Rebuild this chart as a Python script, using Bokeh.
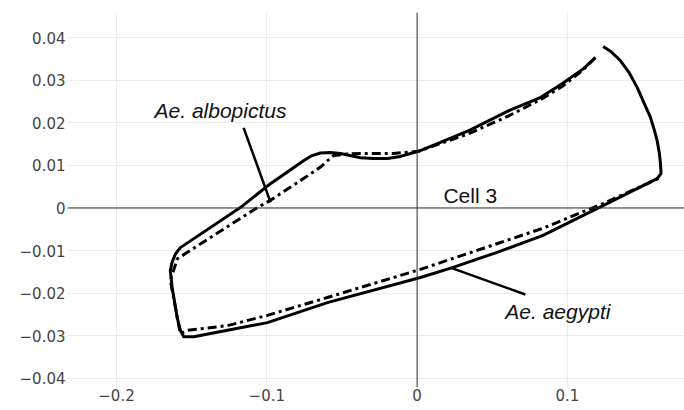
from bokeh.plotting import figure
from bokeh.models import Range1d, FixedTicker, Span, Label
from bokeh.embed import file_html
from bokeh.resources import INLINE

# --- data ---
solid_x = [0.1186, 0.1107, 0.0967, 0.0820, 0.0614, 0.0348, 0.0155, 0.0009, -0.0111, -0.0197,
           -0.0291, -0.0377, -0.0510, -0.0577, -0.0643, -0.0699, -0.0756, -0.0865, -0.0976, -0.1176,
           -0.1575, -0.1608, -0.1630, -0.1642, -0.1630, -0.1619, -0.1597, -0.1575, -0.1553, -0.1486,
           -0.1262, -0.0996, -0.0597, 0.0022, 0.0235, 0.0532, 0.0834, 0.1240, 0.1530, 0.1597,
           0.1623, 0.1619, 0.1612, 0.1597, 0.1579, 0.1552, 0.1508, 0.1464, 0.1408, 0.1352,
           0.1286, 0.1238]
solid_y = [0.0353, 0.0327, 0.0292, 0.0259, 0.0229, 0.0182, 0.0154, 0.0133, 0.0121, 0.0116,
           0.0116, 0.0118, 0.0128, 0.0130, 0.0129, 0.0123, 0.0111, 0.0084, 0.0057, 0.0001,
           -0.0093, -0.0108, -0.0127, -0.0147, -0.0186, -0.0209, -0.0256, -0.0287, -0.0302, -0.0302,
           -0.0287, -0.0269, -0.0222, -0.0163, -0.0140, -0.0104, -0.0065, 0.0006, 0.0057, 0.0069,
           0.0081, 0.0104, 0.0128, 0.0158, 0.0182, 0.0213, 0.0248, 0.0283, 0.0319, 0.0346,
           0.0368, 0.0379]

dashdot_x = [0.1186, 0.1107, 0.0973, 0.0820, 0.0614, 0.0348, 0.0009, -0.0158, -0.0377, -0.0466,
             -0.0557, -0.0643, -0.0756, -0.0976, -0.1063, -0.1595, -0.1642, -0.1575, -0.1528, -0.1262,
             -0.0996, -0.0597, 0.0022, 0.0834, 0.1240, 0.1532, 0.1619]
dashdot_y = [0.0353, 0.0325, 0.0287, 0.0254, 0.0217, 0.0175, 0.0133, 0.0128, 0.0128, 0.0127,
             0.0123, 0.0096, 0.0069, 0.0018, 0.0001, -0.0119, -0.0170, -0.0295, -0.0287, -0.0276,
             -0.0252, -0.0210, -0.0144, -0.0048, 0.0011, 0.0057, 0.0072]

x_ticks = [-0.2, -0.1, 0, 0.1]
x_tick_labels = ["\u22120.2", "\u22120.1", "0", "0.1"]
y_ticks = [-0.04, -0.03, -0.02, -0.01, 0, 0.01, 0.02, 0.03, 0.04]
y_tick_labels = ["\u22120.04", "\u22120.03", "\u22120.02", "\u22120.01", "0", "0.01", "0.02", "0.03", "0.04"]

annotation_texts = ["Ae. albopictus", "Ae. aegypti", "Cell 3"]
annotation_x = [-0.1747, 0.0587, 0.0175]
annotation_y = [0.0229, -0.0242, 0.0029]
annotation_italic = [True, True, False]

pointer_x0 = [-0.1154, 0.0222]
pointer_y0 = [0.0188, -0.0140]
pointer_x1 = [-0.0975, 0.0720]
pointer_y1 = [0.0013, -0.0203]

p = figure(width=684, height=410, output_backend="svg", toolbar_location=None,
           x_range=Range1d(-0.2326, 0.1779), y_range=Range1d(-0.04212, 0.04587),
           min_border_left=67, min_border_right=0, min_border_top=12, min_border_bottom=23)
p.outline_line_color = None
p.background_fill_color = "white"
p.border_fill_color = "white"

for ax, ticks, labels in [(p.xaxis[0], x_ticks, x_tick_labels), (p.yaxis[0], y_ticks, y_tick_labels)]:
    ax.ticker = FixedTicker(ticks=ticks)
    ax.major_label_overrides = {t: l for t, l in zip(ticks, labels)}
    ax.axis_line_color = None
    ax.major_tick_line_color = None
    ax.major_tick_out = 0
    ax.major_tick_in = 0
    ax.minor_tick_line_color = None
    ax.major_label_text_font = "DejaVu Sans"
    ax.major_label_text_font_size = "15px"
    ax.major_label_text_color = "#444444"
p.xaxis[0].major_label_standoff = 1
p.yaxis[0].major_label_standoff = 2

p.grid.grid_line_color = "#ebebeb"
p.grid.grid_line_width = 1

p.add_layout(Span(location=0, dimension="height", line_color="#333333", line_width=1))
p.add_layout(Span(location=0, dimension="width", line_color="#333333", line_width=1))

p.line(solid_x, solid_y, line_color="black", line_width=3, line_join="round")
p.line(dashdot_x, dashdot_y, line_color="black", line_width=3, line_dash="9 4 3 4", line_join="round")

p.segment(x0=pointer_x0, y0=pointer_y0, x1=pointer_x1, y1=pointer_y1, line_color="black", line_width=2.5)

for t, x, y, it in zip(annotation_texts, annotation_x, annotation_y, annotation_italic):
    p.add_layout(Label(x=x, y=y, text=t, text_font="Liberation Sans", text_font_size="21px",
                       text_font_style="italic" if it else "normal", text_color="#111111",
                       text_align="left", text_baseline="alphabetic"))

open("out.html", "w").write(file_html(p, INLINE))
